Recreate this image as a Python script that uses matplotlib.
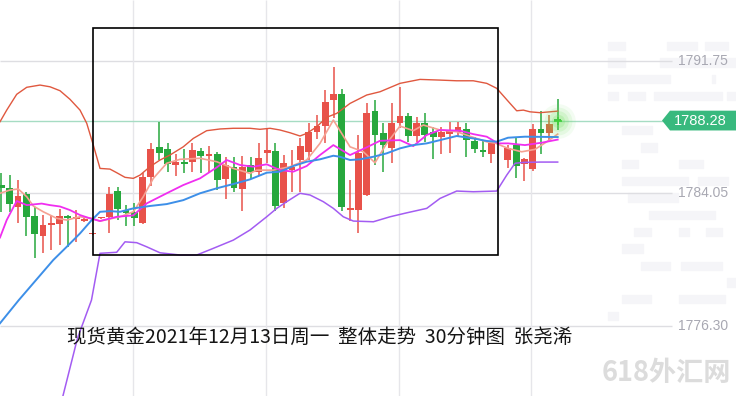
import numpy as np
import matplotlib
matplotlib.use('Agg')
import matplotlib.pyplot as plt
from matplotlib.patches import Rectangle, Polygon
from matplotlib.transforms import blended_transform_factory

plt.rcParams['font.family'] = ['Noto Sans CJK SC', 'DejaVu Sans']

nan = np.nan

# 30-minute candles, one per bar index (bar 60 is missing on the chart)
opens = [1784.52, 1784.34, 1783.24, 1783.99, 1782.71, 1781.55, 1782.19, 1782.25, 1782.71, 1782.54,
         1782.45, 1781.66, 1782.58, 1782.65, 1784.17, 1783.09, 1782.95, 1782.30, 1784.99, 1786.74,
         1786.62, 1785.69, 1785.86, 1785.86, 1786.50, 1786.23, 1786.33, 1784.87, 1785.57, 1784.29,
         1785.69, 1785.28, 1786.40, 1786.50, 1783.47, 1785.39, 1785.98, 1786.46, 1787.61, 1787.96,
         1789.48, 1789.83, 1783.09, 1783.06, 1783.94, 1788.83, 1787.55, 1786.68, 1788.13, 1788.54,
         1787.38, 1788.13, 1787.61, 1787.32, 1787.49, 1787.61, 1787.79, 1787.09, 1786.56, 1786.33,
         nan, 1785.98, 1786.85, 1785.74, 1785.45, 1787.79, 1787.55, 1788.34]
highs = [1785.22, 1785.10, 1784.81, 1784.11, 1783.24, 1782.77, 1782.77, 1783.12, 1782.77, 1783.06,
         1782.60, 1781.75, 1782.67, 1784.40, 1784.40, 1783.35, 1783.47, 1785.22, 1786.97, 1788.19,
         1786.97, 1786.33, 1786.62, 1786.97, 1786.68, 1786.79, 1786.44, 1786.15, 1786.15, 1786.21,
         1786.15, 1786.97, 1787.84, 1786.97, 1786.27, 1786.56, 1787.26, 1788.13, 1788.60, 1790.06,
         1791.40, 1790.12, 1784.81, 1787.44, 1789.30, 1789.48, 1788.13, 1789.30, 1790.23, 1788.72,
         1788.48, 1788.72, 1787.90, 1787.90, 1788.19, 1788.19, 1788.13, 1787.32, 1787.14, 1786.97,
         nan, 1786.85, 1787.32, 1786.09, 1788.08, 1788.83, 1788.60, 1789.53]
lows = [1782.95, 1782.95, 1782.30, 1781.55, 1780.26, 1780.55, 1780.73, 1781.02, 1780.90, 1781.20,
        1782.36, 1781.63, 1782.54, 1781.72, 1782.48, 1782.13, 1782.13, 1782.25, 1784.46, 1785.98,
        1785.28, 1785.04, 1785.22, 1785.28, 1785.22, 1785.28, 1784.23, 1783.70, 1784.11, 1783.00,
        1784.87, 1785.10, 1785.80, 1783.00, 1783.18, 1784.13, 1784.11, 1785.98, 1787.20, 1786.97,
        1788.43, 1783.00, 1782.42, 1781.72, 1783.88, 1785.69, 1785.28, 1785.80, 1787.84, 1787.03,
        1787.03, 1787.03, 1786.04, 1786.33, 1786.39, 1787.32, 1786.15, 1786.39, 1786.15, 1785.80,
        nan, 1785.51, 1784.93, 1784.75, 1785.34, 1786.33, 1787.14, 1787.73]
closes = [1784.34, 1783.41, 1783.88, 1782.65, 1781.66, 1782.19, 1782.30, 1782.71, 1782.60, 1782.65,
          1782.51, 1781.72, 1782.62, 1783.99, 1783.12, 1782.89, 1782.57, 1784.99, 1786.62, 1786.39,
          1785.74, 1785.86, 1785.74, 1786.56, 1786.21, 1786.31, 1784.81, 1785.69, 1784.34, 1785.57,
          1785.28, 1786.09, 1786.56, 1783.30, 1785.80, 1785.59, 1786.81, 1787.63, 1787.96, 1789.36,
          1789.83, 1783.24, 1783.12, 1786.39, 1788.72, 1787.44, 1786.85, 1788.13, 1788.54, 1787.38,
          1788.13, 1787.44, 1787.32, 1787.61, 1787.67, 1787.90, 1787.14, 1786.62, 1786.44, 1786.97,
          nan, 1786.68, 1785.63, 1786.04, 1787.79, 1787.55, 1788.08, 1788.28]

# indicator lines, sampled at (bar index, price)
upper_x = [-0.18, 0.63, 1.83, 3.04, 4.64, 5.84, 7.05, 8.25, 9.46, 10.27, 11.06, 11.87, 13.07, 13.88,
           14.88, 15.88, 16.69, 17.89, 19.10, 20.30, 21.90, 23.11, 24.72, 26.33, 27.93, 29.94, 31.14,
           32.35, 33.55, 34.76, 35.96, 36.77, 37.98, 39.18, 40.39, 41.99, 44.0, 45.60, 48.01, 50.42,
           52.83, 54.84, 56.84, 58.46, 59.66, 61.27, 62.07, 62.87, 63.67, 64.88, 66.08, 67.01]
upper_y = [1788.21, 1788.89, 1789.81, 1790.22, 1790.35, 1790.25, 1790.02, 1789.52, 1788.89, 1788.12,
           1786.85, 1785.49, 1785.45, 1785.24, 1784.97, 1784.91, 1785.10, 1785.59, 1785.98, 1786.27,
           1786.75, 1787.24, 1787.69, 1787.79, 1787.83, 1787.83, 1787.77, 1787.83, 1787.73, 1787.57,
           1787.38, 1787.53, 1787.92, 1788.47, 1788.70, 1789.28, 1789.77, 1789.96, 1790.45, 1790.68,
           1790.64, 1790.60, 1790.60, 1790.45, 1790.16, 1789.28, 1788.85, 1788.89, 1788.79, 1788.74,
           1788.79, 1788.83]

lower_x = [6.60, 7.40, 9.16, 10.84, 11.87, 13.88, 14.88, 16.29, 17.49, 19.10, 21.51, 23.52, 25.52,
           27.93, 29.94, 31.95, 33.16, 34.36, 35.96, 37.17, 38.77, 39.98, 41.18, 42.39, 44.80, 46.81,
           48.82, 51.23, 52.83, 54.84, 56.84, 59.66, 60.87, 61.87, 62.87, 64.88, 67.01]
lower_y = [1770.23, 1772.22, 1775.60, 1777.81, 1780.54, 1780.60, 1781.21, 1781.16, 1780.92, 1780.57,
           1780.44, 1780.44, 1780.83, 1781.31, 1781.90, 1782.67, 1783.16, 1783.55, 1784.04, 1783.94,
           1783.55, 1783.16, 1782.67, 1782.42, 1782.38, 1782.67, 1782.90, 1783.16, 1783.74, 1784.17,
           1784.13, 1784.17, 1785.10, 1785.79, 1785.84, 1785.86, 1785.86]

blue_x = [-0.18, 2.08, 4.16, 6.24, 7.86, 9.46, 10.87, 11.87, 13.07, 14.28, 15.88, 17.89, 19.90, 21.90,
          23.92, 25.93, 27.93, 29.94, 31.95, 33.55, 35.16, 36.77, 38.37, 39.98, 40.78, 41.99, 43.19,
          44.80, 46.41, 48.01, 49.61, 51.23, 52.83, 54.84, 56.84, 58.46, 59.66, 61.02, 63.07, 67.01]
blue_y = [1776.46, 1777.81, 1778.98, 1780.15, 1780.92, 1781.70, 1782.48, 1782.96, 1783.00, 1782.96,
          1783.16, 1783.30, 1783.41, 1783.64, 1784.04, 1784.33, 1784.58, 1784.85, 1785.24, 1785.30,
          1785.63, 1785.88, 1786.02, 1786.23, 1786.17, 1785.98, 1786.02, 1786.17, 1786.37, 1786.66,
          1786.85, 1786.95, 1787.14, 1787.38, 1787.24, 1787.09, 1787.05, 1787.28, 1787.34, 1787.32]

mag_x = [-0.18, 0.63, 1.83, 3.04, 4.84, 5.84, 7.05, 8.25, 9.46, 10.66, 11.87, 13.88, 15.88, 17.49,
         19.90, 21.90, 23.92, 25.93, 27.13, 28.73, 30.34, 31.95, 33.55, 35.16, 36.77, 38.37, 39.98,
         41.99, 44.0, 45.60, 48.01, 49.61, 51.23, 52.83, 55.24, 56.84, 58.46, 59.82, 61.02, 63.07,
         65.08, 67.01]
mag_y = [1781.46, 1782.48, 1783.59, 1783.35, 1783.44, 1783.35, 1783.27, 1783.06, 1782.77, 1782.58,
         1782.42, 1782.67, 1782.75, 1783.45, 1784.04, 1784.52, 1784.91, 1785.55, 1785.98, 1785.69,
         1785.59, 1785.73, 1785.39, 1785.30, 1785.63, 1786.27, 1786.85, 1786.27, 1786.72, 1787.10,
         1787.14, 1786.79, 1787.44, 1787.73, 1787.69, 1787.49, 1787.34, 1786.95, 1786.95, 1786.85,
         1786.99, 1787.17]

sal_x = [-0.18, 1.02, 2.02, 3.04, 3.83, 5.04, 6.65, 7.86, 9.46, 10.87, 11.87, 14.28, 15.88, 17.08,
         18.29, 19.90, 21.51, 23.92, 25.93, 27.93, 29.94, 30.75, 32.75, 34.76, 36.77, 38.37, 39.98,
         41.99, 43.59, 45.0, 46.41, 48.01, 49.61, 50.82, 52.83, 54.84, 56.84, 58.46, 59.46, 61.02,
         62.67, 64.27, 65.68, 67.01]
sal_y = [1784.04, 1784.23, 1784.29, 1783.84, 1783.30, 1782.96, 1782.58, 1782.48, 1782.67, 1782.58,
         1782.42, 1782.67, 1782.96, 1783.84, 1784.91, 1785.79, 1786.02, 1786.08, 1785.88, 1785.49,
         1785.20, 1785.39, 1785.39, 1785.59, 1785.98, 1786.95, 1788.31, 1786.75, 1786.46, 1785.82,
         1786.95, 1787.96, 1787.69, 1788.02, 1787.73, 1787.63, 1787.30, 1787.04, 1786.97, 1786.66,
         1786.46, 1786.60, 1787.04, 1787.49]

price_ticks = [1791.75, 1784.05, 1776.30]
tick_labels = ['1791.75', '1784.05', '1776.30']
last_price = 1788.28
grid_bars = [15.85, 31.85, 47.85, 63.85]
box_bars = (11.02, 59.82)
box_prices = (1780.44, 1793.67)
title = '现货黄金2021年12月13日周一  整体走势  30分钟图  张尧浠'
watermark = '618外汇网'

W, H = 736, 396
fig = plt.figure(figsize=(W / 100, H / 100), dpi=100)
ax = fig.add_axes([0, 0, 1, 1])
ax.set_xlim(-0.18, 88.49)
ax.set_ylim(1772.22, 1795.31)
ax.axis('off')

# faint background blocks behind the price scale (pixel boxes x0, x1, y0, y1)
blocks = [(608, 625, 42, 50), (667, 697, 42, 50), (705, 728, 42, 50),
          (608, 625, 58, 67), (660, 736, 58, 67), (608, 670, 75, 83), (712, 715, 75, 83),
          (608, 618, 92, 100), (628, 645, 92, 100), (654, 722, 92, 100), (727, 736, 92, 100),
          (622, 652, 126, 134), (641, 657, 143, 152), (622, 638, 160, 168), (679, 703, 160, 168),
          (622, 688, 177, 185), (698, 728, 177, 185), (628, 678, 193, 202), (649, 715, 211, 219),
          (634, 651, 228, 236), (679, 689, 228, 236), (706, 722, 228, 236), (622, 643, 244, 253),
          (641, 670, 262, 270), (681, 722, 262, 270), (727, 736, 278, 287), (622, 651, 295, 303),
          (679, 725, 295, 303), (608, 618, 312, 320)]
for x0, x1, y0, y1 in blocks:
    fig.patches.append(Rectangle((x0 / W, 1 - y1 / H), (x1 - x0) / W, (y1 - y0) / H,
                                 transform=fig.transFigure, color='#f5f5f8', zorder=-1))

# grid
grid_end = (672 - 1.5) / 8.3
ax.hlines(price_ticks, -0.18, grid_end, colors='#dedee2', lw=1, zorder=1)
ax.vlines(grid_bars, 1772.22, 1795.31, colors='#e6e6ea', lw=1, zorder=1)
ax.hlines(last_price, -0.18, (663 - 1.5) / 8.3, colors='#a6dcc3', lw=1, zorder=1)

# candles
o = np.array(opens); h = np.array(highs); l = np.array(lows); c = np.array(closes)
x = np.arange(len(o))
ok = ~np.isnan(o)
up = c >= o
colors = np.where(up, '#e8524a', '#27a83d').astype(object)
colors[66] = '#d8623f'
ax.vlines(x[ok], l[ok], h[ok], colors=list(colors[ok]), lw=1.1, zorder=3)
body = np.maximum(np.abs(c - o), 0.07)
ax.bar(x[ok], body[ok], bottom=np.minimum(o, c)[ok], width=0.82,
       color=list(colors[ok]), lw=0, zorder=4)

# indicator lines
ax.plot(upper_x, upper_y, color='#e0583f', lw=1.0, zorder=5)
ax.plot(lower_x, lower_y, color='#a35cf2', lw=1.1, zorder=5)
ax.plot(sal_x, sal_y, color='#f5a192', lw=1.2, zorder=5)
ax.plot(mag_x, mag_y, color='#f02ef0', lw=1.3, zorder=6)
ax.plot(blue_x, blue_y, color='#3d8fe8', lw=1.4, zorder=6)

# highlight box
ax.add_patch(Rectangle((box_bars[0], box_prices[0]), box_bars[1] - box_bars[0],
                       box_prices[1] - box_prices[0], fill=False, ec='black', lw=1.2, zorder=7))

# glow on last bar
for s, a in [(620, 0.08), (400, 0.11), (220, 0.16), (90, 0.22)]:
    ax.scatter([len(o) - 1], [last_price], s=s, color='#6ee05a', alpha=a, lw=0, zorder=8)
ax.scatter([len(o) - 1], [last_price], s=40, marker='+', color='#3fcf3a', lw=1.2, zorder=9)

# price scale labels
tr = blended_transform_factory(fig.transFigure, ax.transData)
for p, t in zip(price_ticks, tick_labels):
    ax.text(678 / W, p, t, transform=tr, ha='left', va='center', fontsize=10,
            family='Liberation Sans', color='#a8a8b2', zorder=9)

half = 9.9 / 17.15
ax.add_patch(Polygon([(662 / W, last_price), (670 / W, last_price + half), (1.0, last_price + half),
                      (1.0, last_price - half), (670 / W, last_price - half)],
                     closed=True, transform=tr, color='#38b97e', lw=0, zorder=9))
ax.text(700 / W, last_price, f'{last_price:.2f}', transform=tr, ha='center', va='center',
        fontsize=10.5, family='Liberation Sans', color='white', zorder=10)

# texts
fig.text(67 / W, 1 - 337 / H, title, ha='left', va='center', fontsize=14, color='#151515')
fig.text(666 / W, 1 - 373 / H, watermark, ha='center', va='center', fontsize=19.5,
         fontweight='bold', color='#dcdcdc')

fig.savefig('out.png', dpi=100)
